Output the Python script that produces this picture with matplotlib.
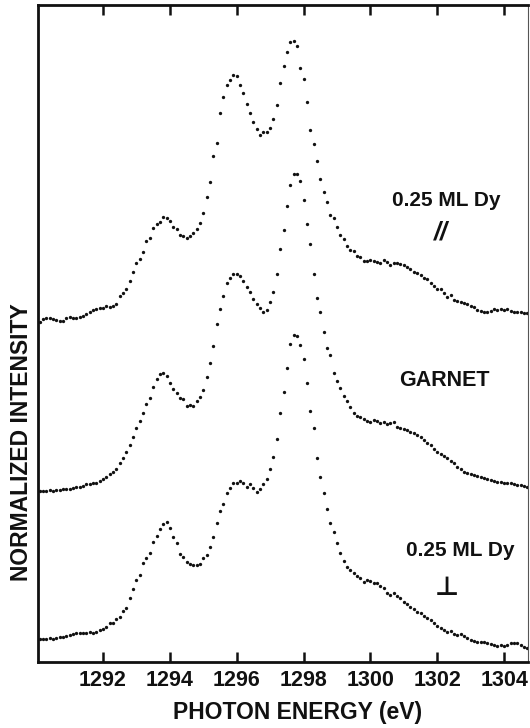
import numpy as np
import matplotlib
matplotlib.use("Agg")
import matplotlib.pyplot as plt

# Dy M5 absorption spectra, intensity in arbitrary units (stacked, offset)
dy_parallel = [
    340, 343, 344, 344, 343, 342, 341, 341, 344, 345,
    344, 344, 345, 346, 348, 350, 352, 353, 354, 354,
    356, 355, 356, 358, 366, 369, 373, 381, 390, 399,
    403, 410, 421, 424, 434, 438, 440, 445, 444, 441,
    435, 433, 427, 426, 424, 426, 429, 433, 439, 449,
    465, 480, 506, 519, 549, 565, 577, 582, 587, 586,
    577, 569, 558, 549, 540, 533, 527, 530, 530, 534,
    543, 557, 579, 596, 610, 620, 621, 616, 594, 583,
    560, 532, 518, 501, 483, 470, 460, 447, 444, 435,
    427, 423, 416, 412, 411, 406, 405, 401, 401, 402,
    401, 400, 399, 402, 400, 397, 399, 399, 398, 397,
    395, 393, 390, 389, 387, 384, 383, 379, 376, 373,
    373, 369, 365, 367, 362, 361, 360, 359, 358, 356,
    355, 352, 351, 350, 350, 351, 353, 352, 353, 352,
    353, 351, 350, 350, 350, 349, 349,
]

garnet = [
    171, 171, 171, 172, 171, 172, 172, 173, 173, 173,
    174, 175, 175, 176, 178, 178, 179, 179, 181, 183,
    185, 188, 190, 193, 199, 204, 210, 217, 225, 234,
    241, 249, 258, 264, 275, 283, 288, 289, 286, 279,
    273, 269, 264, 263, 256, 257, 256, 261, 265, 272,
    285, 299, 316, 338, 353, 366, 379, 384, 388, 388,
    386, 381, 375, 370, 363, 358, 354, 350, 352, 360,
    370, 388, 413, 432, 456, 477, 488, 488, 481, 462,
    438, 418, 388, 364, 350, 330, 314, 307, 289, 281,
    274, 266, 261, 255, 249, 246, 245, 243, 241, 240,
    242, 241, 239, 240, 238, 239, 240, 235, 234, 233,
    232, 230, 229, 227, 225, 222, 219, 217, 213, 210,
    208, 206, 204, 201, 199, 195, 193, 190, 189, 188,
    187, 186, 185, 184, 183, 182, 181, 180, 180, 179,
    179, 179, 178, 177, 177, 176, 175,
]

dy_perpendicular = [
    23, 23, 23, 24, 23, 24, 25, 25, 26, 27,
    28, 29, 29, 29, 29, 30, 29, 30, 32, 33,
    35, 39, 39, 43, 45, 51, 54, 64, 73, 82,
    87, 99, 104, 109, 120, 126, 133, 138, 140, 134,
    125, 119, 108, 105, 100, 98, 97, 97, 98, 104,
    107, 115, 125, 139, 151, 158, 169, 174, 179, 179,
    181, 179, 175, 178, 174, 170, 173, 178, 183, 193,
    205, 223, 249, 270, 294, 318, 327, 326, 317, 303,
    279, 251, 234, 204, 185, 169, 153, 139, 130, 119,
    109, 101, 95, 92, 89, 86, 84, 80, 82, 81,
    79, 79, 76, 74, 69, 67, 69, 66, 64, 60,
    58, 55, 53, 50, 49, 46, 44, 42, 39, 36,
    34, 32, 30, 31, 28, 27, 28, 26, 24, 22,
    21, 20, 20, 20, 19, 18, 17, 16, 17, 16,
    17, 19, 19, 19, 17, 15, 14,
]

# measurement grid: 0.1 eV steps starting at 1290.1 eV
e_start, e_step = 1290.1, 0.1
energy = np.round(e_start + e_step * np.arange(len(garnet)), 2)

tick_values = [1292, 1294, 1296, 1298, 1300, 1302, 1304]
tick_labels = ["1292", "1294", "1296", "1298", "1300", "1302", "1304"]

INK = "#111111"
W, H = 530, 728
fig = plt.figure(figsize=(W / 100, H / 100), dpi=100)
ax = fig.add_axes([38 / W, (H - 662) / H, (528 - 38) / W, (662 - 5) / H])

for series in (dy_parallel, garnet, dy_perpendicular):
    ax.plot(energy, series, ls="none", marker="o", ms=2.4, mew=0, color=INK)

ax.set_xlim(1290.054, 1304.716)
ax.set_ylim(0, 657)
ax.set_yticks([])

# inward ticks on bottom and top, labels only at the bottom
ax.set_xticks(tick_values)
ax.set_xticklabels(tick_labels, family=["Liberation Sans", "DejaVu Sans"],
                   fontsize=15.5, fontweight="bold")
ax.tick_params(axis="x", direction="in", top=True, bottom=True,
               labeltop=False, length=7, width=1.8, pad=6,
               color=INK, labelcolor=INK)

for side in ("left", "bottom", "top"):
    ax.spines[side].set_linewidth(2.0)
    ax.spines[side].set_color(INK)
ax.spines["right"].set_linewidth(0.8)
ax.spines["right"].set_color("#555555")

lab_font = dict(family=["Liberation Sans", "DejaVu Sans"], color=INK)

ax.text(1302.26, 462, "0.25 ML Dy", fontsize=15, fontweight="bold",
        ha="center", va="center", **lab_font)
ax.text(1302.11, 430, "//", fontsize=18, fontweight="bold", style="italic",
        ha="center", va="center", **lab_font)
ax.text(1302.2, 281, "GARNET", fontsize=15.5, fontweight="bold",
        ha="center", va="center", **lab_font)
ax.text(1302.68, 112, "0.25 ML Dy", fontsize=15, fontweight="bold",
        ha="center", va="center", **lab_font)
ax.text(1302.29, 74, "\u22a5", fontsize=19, fontweight="bold",
        ha="center", va="center", family=["DejaVu Sans"], color=INK)

fig.text(298 / W, 1 - 712 / H, "PHOTON ENERGY (eV)", fontsize=16.5,
         fontweight="bold", ha="center", va="center", **lab_font)
fig.text(22 / W, 1 - 442 / H, "NORMALIZED INTENSITY", fontsize=16.5,
         fontweight="bold", rotation=90, ha="center", va="center", **lab_font)

fig.savefig("out.png", dpi=100, facecolor="white")
